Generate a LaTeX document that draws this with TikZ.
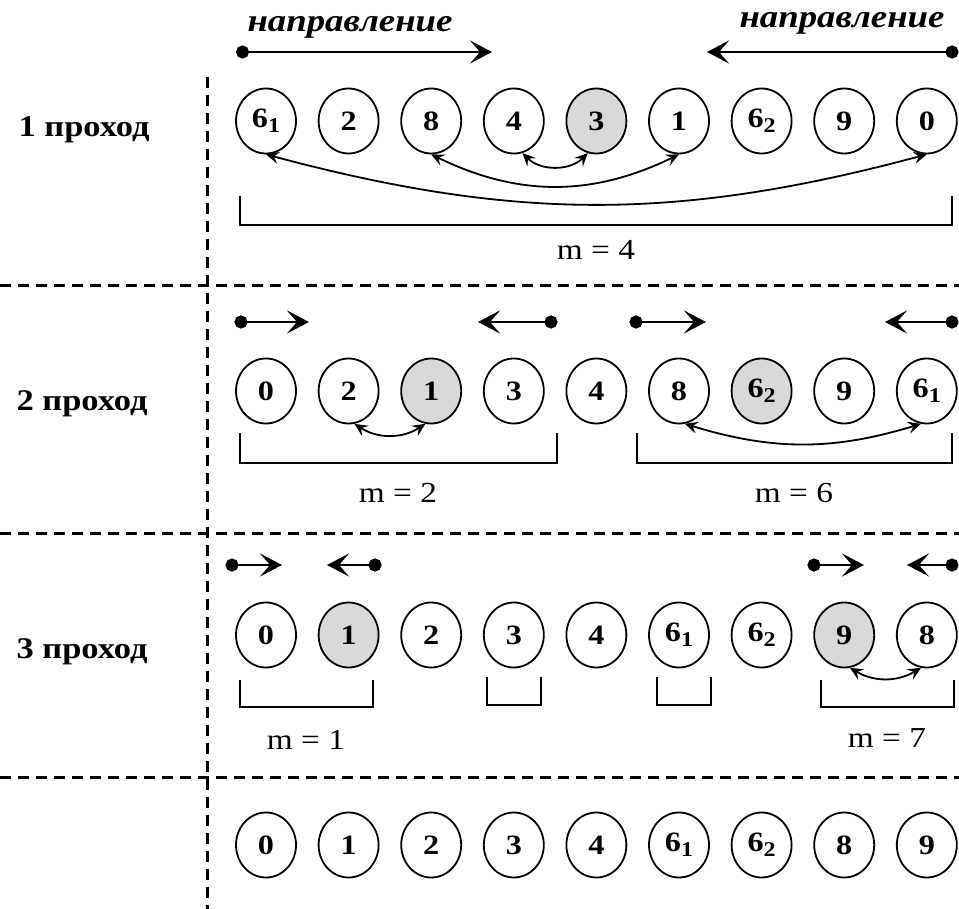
\documentclass[tikz,border=0pt]{standalone}
\usepackage{fontspec}
\setmainfont{Liberation Serif}[FakeStretch=1.15]
\usetikzlibrary{arrows.meta}
\usetikzlibrary{shapes.geometric}
\definecolor{selgray}{RGB}{217,217,217}
\newcommand{\sixa}{6\raisebox{-0.4ex}{\fontsize{21}{21}\selectfont 1}}
\newcommand{\sixb}{6\raisebox{-0.4ex}{\fontsize{21}{21}\selectfont 2}}
\tikzset{
  elem/.style={ellipse,draw,line width=1.8pt,minimum width=60pt,minimum height=65pt,inner sep=0pt,font=\fontsize{28}{28}\selectfont\bfseries},
  sel/.style={elem,fill=selgray},
  sep/.style={line width=3pt,dash pattern=on 11pt off 7pt},
  brk/.style={line width=1.8pt},
  dirarr/.style={line width=2.8pt,arrows={Circle[length=13pt]-Stealth[length=22pt,width=23pt,inset=10pt]}},
  swarr/.style={line width=1.8pt,arrows={Stealth[length=13pt,width=12pt,inset=5pt]-Stealth[length=13pt,width=12pt,inset=5pt]}},
  mlab/.style={font=\fontsize{29}{29}\selectfont},
  passlab/.style={anchor=base west,font=\fontsize{30}{30}\selectfont\bfseries},
  dirlab/.style={anchor=base,font=\fontsize{32}{32}\selectfont\bfseries\itshape}
}
\begin{document}
\begin{tikzpicture}[x=1pt,y=-1pt]
\useasboundingbox (0,0) rectangle (959,909);

          \draw[sep] (207,77)--(207,909); %縦の区切り
          \draw[sep] (0,286)--(959,286); %区切り1
          \draw[sep] (0,533)--(959,533); %区切り2
          \draw[sep] (0,777)--(959,777); %区切り3

          \node[passlab] (lbl1) at (15,137) {1 проход}; %1回目
          \node[passlab] (lbl2) at (13,410) {2 проход}; %2回目
          \node[passlab] (lbl3) at (13,658) {3 проход}; %3回目

          \node[dirlab] (dirL) at (350,32) {направление}; %左の方向
          \node[dirlab] (dirR) at (842,28) {направление}; %右の方向

          \foreach \t/\s [count=\i] in {\sixa/elem,2/elem,8/elem,4/elem,3/sel,1/elem,\sixb/elem,9/elem,0/elem}
            \node[\s] (a\i) at ({266+82.6*(\i-1)},121) {\t}; %1行目
          \foreach \t/\s [count=\i] in {0/elem,2/elem,1/sel,3/elem,4/elem,8/elem,\sixb/sel,9/elem,\sixa/elem}
            \node[\s] (b\i) at ({266+82.6*(\i-1)},391) {\t}; %2行目
          \foreach \t/\s [count=\i] in {0/elem,1/sel,2/elem,3/elem,4/elem,\sixa/elem,\sixb/elem,9/sel,8/elem}
            \node[\s] (c\i) at ({266+82.6*(\i-1)},635) {\t}; %3行目
          \foreach \t/\s [count=\i] in {0/elem,1/elem,2/elem,3/elem,4/elem,\sixa/elem,\sixb/elem,8/elem,9/elem}
            \node[\s] (d\i) at ({266+82.6*(\i-1)},845) {\t}; %結果

          \coordinate (p1s) at (236,52); \coordinate (p1e) at (492,52);
          \coordinate (q1s) at (958.5,52); \coordinate (q1e) at (707,52);
          \draw[dirarr] (p1s)--(p1e); %右向き
          \draw[dirarr] (q1s)--(q1e); %左向き

          \coordinate (p2s) at (234.5,322); \coordinate (p2e) at (309,322);
          \coordinate (q2s) at (557.5,322); \coordinate (q2e) at (478,322);
          \coordinate (p3s) at (629.5,322); \coordinate (p3e) at (706,322);
          \coordinate (q3s) at (958.5,322); \coordinate (q3e) at (885,322);
          \draw[dirarr] (p2s)--(p2e);
          \draw[dirarr] (q2s)--(q2e);
          \draw[dirarr] (p3s)--(p3e);
          \draw[dirarr] (q3s)--(q3e);

          \coordinate (p4s) at (225.5,565); \coordinate (p4e) at (282,565);
          \coordinate (q4s) at (381.5,565); \coordinate (q4e) at (327,565);
          \coordinate (p5s) at (807.5,565); \coordinate (p5e) at (864,565);
          \coordinate (q5s) at (958.5,565); \coordinate (q5e) at (907,565);
          \draw[dirarr] (p4s)--(p4e);
          \draw[dirarr] (q4s)--(q4e);
          \draw[dirarr] (p5s)--(p5e);
          \draw[dirarr] (q5s)--(q5e);

          \draw[swarr] (a1.south) to[bend right=15] (a9.south); %交換
          \draw[swarr] (a3.south) to[bend right=26] (a6.south);
          \draw[swarr] (a4.-75) to[bend right=45] (a5.-105);
          \draw[swarr] (b2.-80) to[bend right=33] (b3.-100);
          \draw[swarr] (b6.-80) to[bend right=17] (b9.-100);
          \draw[swarr] (c8.-80) to[bend right=31] (c9.-100);

          \draw[brk] (240,196)--(240,225)--(952,225)--(952,196); %範囲
          \draw[brk] (240,433)--(240,463)--(557,463)--(557,433);
          \draw[brk] (637,433)--(637,463)--(952,463)--(952,433);
          \draw[brk] (240,680)--(240,707)--(373,707)--(373,680);
          \draw[brk] (487,677)--(487,705)--(541,705)--(541,677);
          \draw[brk] (657,677)--(657,705)--(711,705)--(711,677);
          \draw[brk] (821,680)--(821,707)--(954,707)--(954,680);

          \node[mlab] (m1) at (596,250) {m = 4};
          \node[mlab] (m2) at (398,493) {m = 2};
          \node[mlab] (m3) at (794,493) {m = 6};
          \node[mlab] (m4) at (306,740) {m = 1};
          \node[mlab] (m5) at (887,738) {m = 7};

\end{tikzpicture}
\end{document}
